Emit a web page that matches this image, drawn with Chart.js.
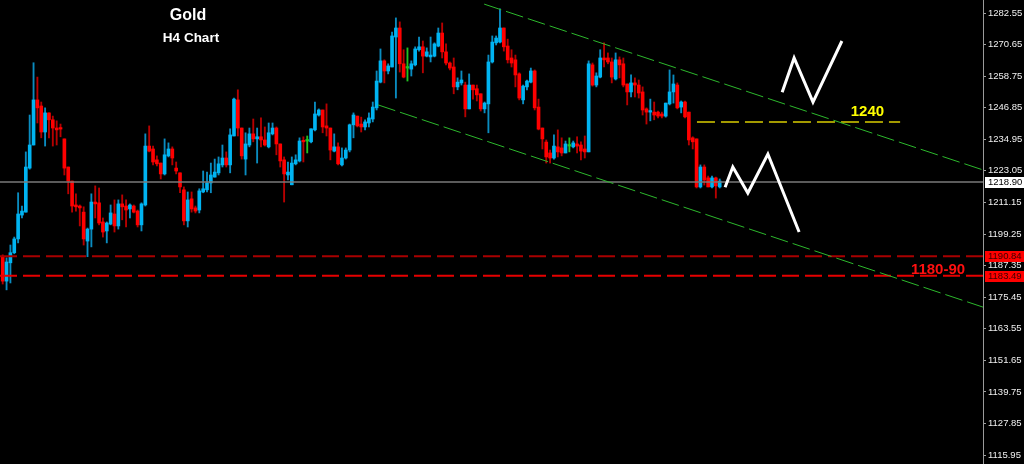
<!DOCTYPE html>
<html><head><meta charset="utf-8">
<script src="https://cdn.jsdelivr.net/npm/chart.js@4.4.1/dist/chart.umd.min.js"></script>
<style>html,body{margin:0;padding:0;background:#000;overflow:hidden}canvas{display:block}</style>
</head><body>
<canvas id="c" width="1024" height="464"></canvas>
<script>
// ---- Gold H4 candles (index 0..186) ----
const open=[1190.7,1181.5,1188.4,1192.2,1197.4,1206.4,1207.5,1224.1,1232.8,1249.8,
1247.5,1237.7,1244.9,1242.3,1239.2,1239.2,1235.1,1224.5,1219.2,1210.2,
1209.8,1207.5,1196.6,1201.1,1211.3,1211.0,1203.8,1200.4,1203.0,1206.8,
1202.3,1210.6,1209.8,1208.7,1209.8,1207.9,1202.7,1210.2,1232.4,1231.3,
1227.2,1226.0,1221.9,1228.7,1231.3,1224.1,1222.3,1215.9,1204.2,1212.5,
1209.1,1208.3,1215.1,1215.9,1218.5,1220.7,1222.3,1225.3,1227.9,1225.3,
1236.2,1249.8,1239.2,1227.5,1232.8,1237.0,1235.1,1235.9,1234.7,1232.1,
1237.0,1239.2,1233.2,1227.2,1221.5,1217.8,1225.7,1226.8,1234.3,1234.3,
1234.0,1238.5,1244.1,1246.0,1240.0,1239.2,1230.5,1232.1,1225.3,1227.9,
1230.9,1240.4,1243.7,1240.7,1239.6,1241.1,1242.6,1246.8,1256.5,1264.5,
1260.7,1262.2,1273.5,1276.9,1263.4,1261.8,1261.4,1263.0,1268.7,1269.8,
1266.3,1266.0,1266.3,1270.1,1275.0,1267.9,1263.7,1262.2,1254.7,1256.2,
1255.4,1246.4,1255.4,1254.0,1252.1,1246.4,1248.3,1264.1,1271.3,1271.6,
1276.9,1270.1,1265.6,1264.9,1259.6,1249.8,1254.7,1256.5,1260.7,1247.1,
1239.2,1233.9,1229.8,1227.9,1232.1,1231.7,1229.8,1232.4,1232.1,1233.2,
1232.8,1231.3,1230.2,1263.0,1255.4,1258.4,1265.6,1265.6,1264.1,1257.7,
1264.9,1263.4,1255.8,1252.8,1256.2,1255.4,1252.8,1246.4,1245.2,1245.2,
1245.2,1244.5,1243.7,1248.3,1252.8,1255.4,1247.1,1249.0,1245.2,1235.5,
1235.1,1217.0,1224.5,1220.4,1217.0,1220.4,1217.0];
const high=[1191.4,1190.3,1195.1,1198.1,1214.8,1209.8,1230.2,1244.1,1263.8,1258.4,
1249.0,1246.8,1244.9,1243.7,1241.9,1240.7,1235.1,1224.5,1219.2,1214.4,
1210.2,1209.5,1201.5,1214.4,1217.4,1216.6,1205.3,1203.8,1210.2,1212.1,
1212.1,1214.0,1212.1,1210.6,1210.2,1208.3,1211.0,1237.0,1240.0,1232.4,
1228.7,1226.0,1235.1,1233.6,1232.1,1226.4,1222.3,1217.0,1215.1,1215.1,
1209.8,1216.3,1223.0,1222.6,1226.0,1227.5,1228.3,1232.8,1230.2,1238.9,
1250.5,1253.6,1239.2,1237.4,1239.2,1242.6,1239.2,1243.0,1239.6,1241.1,
1241.1,1239.6,1233.2,1228.3,1226.4,1228.3,1229.1,1235.5,1235.9,1236.2,
1238.9,1249.0,1246.4,1246.0,1248.3,1239.2,1237.0,1233.6,1231.7,1231.7,
1240.7,1244.9,1243.7,1243.3,1242.3,1244.9,1249.0,1260.7,1269.0,1264.9,
1263.4,1275.4,1280.7,1279.2,1268.7,1269.4,1264.5,1269.8,1273.5,1272.0,
1269.4,1273.5,1271.3,1276.9,1278.8,1270.9,1264.1,1265.6,1258.1,1260.7,
1256.5,1259.6,1255.4,1255.4,1252.1,1249.0,1266.7,1273.9,1273.9,1284.1,
1276.9,1272.7,1268.7,1266.7,1260.0,1255.4,1257.3,1261.8,1261.1,1250.1,
1239.2,1234.7,1230.9,1236.6,1238.5,1235.5,1234.3,1235.5,1234.3,1235.9,
1234.0,1236.2,1264.5,1263.7,1260.0,1268.7,1271.3,1267.5,1265.6,1267.5,
1266.0,1265.6,1255.8,1259.2,1258.1,1257.3,1254.7,1246.8,1250.1,1249.0,
1245.6,1245.2,1248.6,1261.1,1259.2,1256.2,1249.4,1249.4,1245.2,1235.9,
1235.1,1225.3,1225.3,1221.1,1221.1,1220.7,1220.0];
const low=[1180.4,1178.2,1180.8,1191.8,1195.9,1205.3,1207.5,1223.7,1232.8,1241.1,
1235.5,1232.4,1235.5,1232.4,1232.8,1235.9,1221.5,1214.4,1207.5,1207.9,
1202.3,1195.1,1190.7,1194.4,1205.3,1202.7,1198.1,1195.9,1202.7,1200.0,
1201.1,1204.6,1201.9,1205.3,1207.2,1201.9,1200.4,1209.8,1230.2,1225.3,
1224.9,1220.0,1221.5,1228.3,1225.3,1221.9,1214.8,1202.7,1201.9,1207.5,
1207.2,1207.2,1214.8,1215.1,1214.8,1220.7,1221.5,1224.5,1224.5,1222.3,
1236.2,1236.2,1227.5,1221.5,1232.1,1234.0,1226.0,1232.1,1232.4,1231.7,
1236.6,1229.1,1224.5,1211.3,1219.6,1217.8,1225.3,1226.4,1226.4,1229.8,
1233.6,1238.1,1243.7,1237.4,1236.2,1227.2,1230.2,1225.3,1224.9,1227.5,
1230.2,1235.5,1239.6,1237.7,1238.5,1239.6,1241.5,1246.0,1256.2,1256.2,
1259.6,1262.2,1250.5,1260.3,1258.1,1256.9,1258.8,1262.6,1268.2,1260.0,
1266.0,1264.1,1266.0,1269.8,1265.6,1263.0,1261.1,1252.1,1253.6,1255.4,
1243.4,1246.4,1250.1,1249.4,1245.6,1244.9,1237.4,1263.7,1270.5,1271.3,
1268.2,1263.7,1262.2,1254.7,1249.8,1248.3,1253.6,1256.2,1246.0,1238.5,
1231.3,1226.0,1226.0,1227.5,1228.3,1228.7,1229.8,1230.2,1231.7,1229.8,
1227.2,1227.9,1230.2,1255.0,1254.7,1258.1,1262.2,1263.4,1256.2,1257.3,
1258.1,1254.7,1247.9,1250.9,1250.9,1250.5,1244.1,1240.7,1241.9,1242.3,
1243.0,1243.0,1243.3,1247.9,1248.6,1246.4,1244.9,1243.0,1232.8,1231.3,
1216.6,1216.6,1217.7,1217.0,1216.6,1212.8,1216.6];
const close=[1181.5,1188.7,1192.2,1197.4,1206.8,1207.9,1224.5,1232.8,1249.8,1246.8,
1237.7,1244.9,1242.3,1239.2,1238.5,1238.8,1224.1,1219.2,1209.8,1209.5,
1209.1,1197.4,1201.1,1211.3,1210.6,1203.4,1200.0,1203.4,1207.2,1202.3,
1210.6,1209.5,1208.3,1210.2,1207.5,1202.7,1210.6,1232.4,1230.5,1226.4,
1225.7,1221.9,1229.1,1231.3,1227.9,1223.0,1217.0,1204.2,1212.1,1208.7,
1207.9,1215.5,1216.3,1218.5,1221.5,1222.6,1225.7,1227.9,1225.3,1236.6,
1250.1,1239.2,1228.7,1233.2,1237.0,1235.1,1235.9,1234.7,1232.8,1237.4,
1239.2,1233.2,1226.8,1221.9,1222.6,1226.0,1227.2,1234.3,1234.0,1234.3,
1238.9,1244.5,1246.0,1239.6,1239.2,1230.9,1232.1,1225.7,1227.9,1230.9,
1240.4,1244.1,1240.0,1239.6,1241.5,1243.0,1247.1,1256.9,1264.5,1260.7,
1262.6,1273.9,1276.9,1263.4,1258.4,1261.8,1263.4,1269.0,1269.8,1266.3,
1267.9,1266.7,1270.9,1275.0,1267.9,1263.7,1261.8,1254.7,1256.5,1257.3,
1246.4,1255.4,1253.6,1251.7,1246.4,1248.6,1264.1,1271.6,1273.1,1276.9,
1269.8,1264.9,1263.7,1259.2,1250.5,1255.0,1256.9,1260.7,1246.8,1238.8,
1235.1,1228.3,1227.9,1232.4,1230.2,1229.8,1233.2,1232.4,1233.6,1232.4,
1230.5,1230.2,1263.4,1255.4,1258.8,1265.6,1264.9,1264.1,1258.4,1264.9,
1263.0,1255.4,1252.8,1256.2,1255.4,1252.4,1246.0,1245.2,1245.6,1244.1,
1243.7,1243.7,1248.6,1252.8,1255.8,1246.8,1249.0,1243.4,1234.7,1234.0,
1217.0,1224.5,1219.6,1217.0,1220.4,1217.4,1219.2];

// ---- axis ticks and levels ----
const tickValues=[1115.95,1127.85,1139.75,1151.65,1163.55,1175.45,1187.35,1199.25,1211.15,1223.05,1234.95,1246.85,1258.75,1270.65,1282.55];
const lastPrice=1218.90;
const supportTop=1190.84;
const supportBottom=1183.49;
const targetLevel=1241.5;
const targetStart=180.1, targetEnd=232.8;
// channel lines & projected paths (index, price)
const upperChannel=[{x:124.9,y:1285.9},{x:254.3,y:1223.4}];
const lowerChannel=[{x:97.4,y:1247.9},{x:254.3,y:1171.7}];
const pathDown=[{x:187.4,y:1216.9},{x:189.4,y:1224.5},{x:193.3,y:1214.7},{x:198.5,y:1229.4},{x:206.6,y:1200.0}];
const pathUp=[{x:202.2,y:1252.7},{x:205.3,y:1265.6},{x:210.2,y:1249.0},{x:217.7,y:1272.0}];

const X_MIN=-0.7, X_MAX=254.3, Y_MIN=1112.57, Y_MAX=1287.45;

const BULL='#00b4f2', BEAR='#ff0000', DOJI='#22c322';
const BULL_W='#0a8cc0', BEAR_W='#b80000';

const idx=close.map((_,i)=>i);
const bodyColor=ctx=>{const i=ctx.dataIndex;return close[i]>open[i]?BULL:(close[i]<open[i]?BEAR:DOJI);};
const wickColor=ctx=>{const i=ctx.dataIndex;return close[i]>open[i]?BULL_W:(close[i]<open[i]?BEAR_W:DOJI);};

function hline(v,x0,x1){return [{x:x0,y:v},{x:x1,y:v}];}

const overlay={
  id:'overlay',
  beforeDraw(chart){const c=chart.ctx;c.save();c.fillStyle='#000';c.fillRect(0,0,chart.width,chart.height);c.restore();},
  afterDraw(chart){
    const c=chart.ctx, ys=chart.scales.y, xs=chart.scales.x;
    c.save();
    // titles
    c.fillStyle='#ffffff';c.textAlign='center';c.textBaseline='alphabetic';
    c.font='bold 16px "Liberation Sans", Arial, sans-serif';
    c.fillText('Gold',188,20);
    c.font='bold 13.5px "Liberation Sans", Arial, sans-serif';
    c.fillText('H4 Chart',191,42);
    // annotations
    c.textAlign='left';
    c.font='bold 15px "Liberation Sans", Arial, sans-serif';
    c.fillStyle='#ffff00';
    c.fillText('1240',xs.getPixelForValue(220.0),ys.getPixelForValue(1243.9));
    c.fillStyle='#ff1010';
    c.fillText('1180-90',xs.getPixelForValue(235.6),ys.getPixelForValue(1184.2));
    // price boxes on axis
    const boxes=[[lastPrice,'#ffffff','#000000'],[supportTop,'#ff0000','#3a0000'],[supportBottom,'#ff0000','#3a0000']];
    c.font='9.5px "Liberation Sans", Arial, sans-serif';c.textBaseline='middle';
    boxes.forEach(([v,bg,fg])=>{
      const y=Math.round(ys.getPixelForValue(v));
      c.fillStyle=bg;c.fillRect(985,y-5,39,11);
      c.fillStyle=fg;c.fillText(v.toFixed(2),988,y+0.5);
    });
    c.restore();
  }
};

new Chart(document.getElementById('c'),{
  type:'bar',
  data:{datasets:[
    {type:'line',label:'down',data:pathDown,borderColor:'#ffffff',borderWidth:3,pointRadius:0,borderJoinStyle:'miter',order:0},
    {type:'line',label:'up',data:pathUp,borderColor:'#ffffff',borderWidth:3,pointRadius:0,borderJoinStyle:'miter',order:0},
    {type:'line',label:'upperCh',data:upperChannel,borderColor:'#2cb82c',borderWidth:1,borderDash:[18,5],pointRadius:0,order:0},
    {type:'line',label:'lowerCh',data:lowerChannel,borderColor:'#2cb82c',borderWidth:1,borderDash:[18,5],pointRadius:0,order:0},
    {type:'line',label:'target',data:hline(targetLevel,targetStart,targetEnd),borderColor:'#a39a00',borderWidth:2,borderDash:[18,6],pointRadius:0,order:0},
    {type:'line',label:'s1',data:hline(supportTop,X_MIN,X_MAX),borderColor:'#a80000',borderWidth:2,borderDash:[17,6],pointRadius:0,order:0},
    {type:'line',label:'s2',data:hline(supportBottom,X_MIN,X_MAX),borderColor:'#e60000',borderWidth:2,borderDash:[17,6],pointRadius:0,order:0},
    {type:'line',label:'last',data:hline(lastPrice,X_MIN,X_MAX),borderColor:'#7a7a7a',borderWidth:1.5,pointRadius:0,order:0},
    {label:'body',data:idx.map(i=>({x:i,y:[open[i],close[i]]})),backgroundColor:bodyColor,barThickness:3,minBarLength:1.5,grouped:false,borderWidth:0,order:1},
    {label:'wick',data:idx.map(i=>({x:i,y:[low[i],high[i]]})),backgroundColor:wickColor,barThickness:1.2,grouped:false,borderWidth:0,order:2}
  ]},
  options:{
    responsive:false,animation:false,devicePixelRatio:1,
    layout:{padding:0},
    plugins:{legend:{display:false},tooltip:{enabled:false},title:{display:false}},
    scales:{
      x:{type:'linear',display:false,min:X_MIN,max:X_MAX,offset:false,grid:{display:false}},
      y:{type:'linear',position:'right',min:Y_MIN,max:Y_MAX,
        afterBuildTicks:s=>{s.ticks=tickValues.map(v=>({value:v}));},
        afterFit:s=>{s.width=41;s.paddingTop=0;s.paddingBottom=0;},
        ticks:{autoSkip:false,color:'#f0f0f0',padding:2,font:{family:'"Liberation Sans", Arial, sans-serif',size:9.5},callback:v=>Number(v).toFixed(2)},
        grid:{drawOnChartArea:false,drawTicks:true,tickLength:3,color:'#a0a0a0'},
        border:{display:true,color:'#9a9a9a',width:1}
      }
    }
  },
  plugins:[overlay]
});
</script>
</body></html>
